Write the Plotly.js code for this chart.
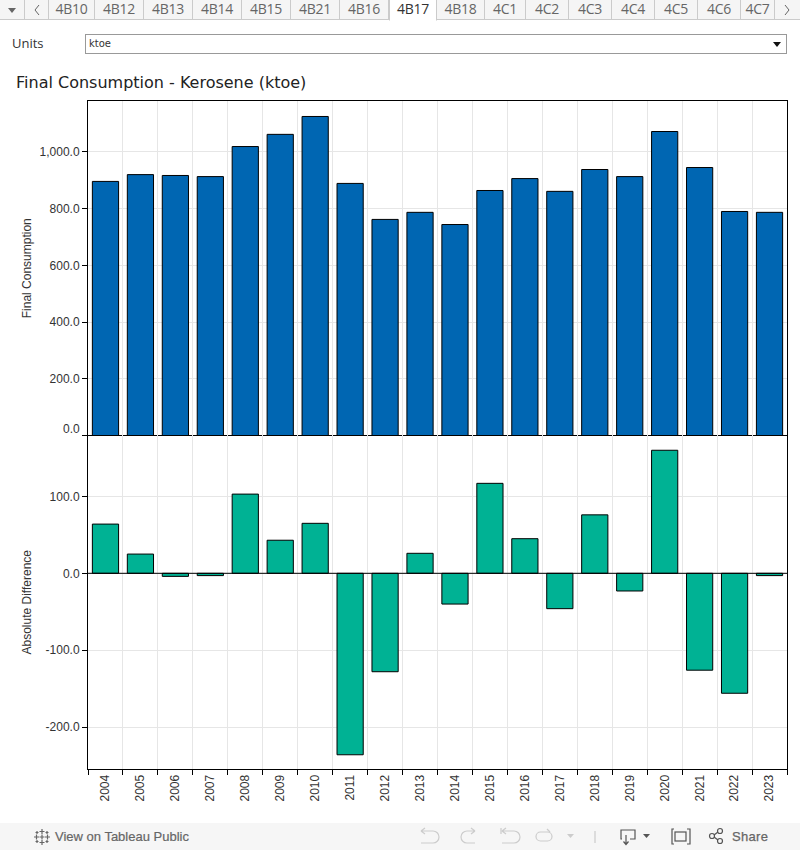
<!DOCTYPE html>
<html>
<head>
<meta charset="utf-8">
<script src="https://cdn.plot.ly/plotly-3.0.1.min.js"></script>
<style>
html,body{margin:0;padding:0;background:#fff;width:800px;height:850px;overflow:hidden}
#chart{position:absolute;left:0;top:0;width:800px;height:850px}
.abs{position:absolute;box-sizing:border-box}
#tabs{left:0;top:0;width:800px;height:20px;background:#f5f5f5;border-bottom:1px solid #cbcbcb}
.tab{position:absolute;top:0;height:20px;border-right:1px solid #cbcbcb;color:#666;font:14px "Open Sans",sans-serif;text-align:center;line-height:18px;box-sizing:border-box;letter-spacing:-.3px}
.tab.sel{background:#fff;color:#333;border-left:1px solid #cbcbcb;border-bottom:1px solid #fff;height:21px}
#units{left:12px;top:34px;font:13px "Open Sans",sans-serif;color:#333}
#sel{left:85px;top:34px;width:702px;height:20px;border:1px solid #999;font:10px "DejaVu Sans",sans-serif;color:#333;padding:3px 0 0 3px}
#foot{left:0;top:823px;width:800px;height:27px;background:#f6f6f6;font:13px "Liberation Sans",sans-serif;color:#666}
</style>
</head>
<body>
<div id="chart"></div>
<div id="tabs" class="abs"></div>
<div id="units" class="abs">Units</div>
<div id="sel" class="abs">ktoe<svg style="position:absolute;right:4px;top:7px" width="9" height="5"><path d="M0 0H8L4 5Z" fill="#111"/></svg></div>
<div id="foot" class="abs">
<svg style="position:absolute;left:33px;top:5px" width="18" height="18" stroke="#666" fill="none" stroke-width="1.2">
<path d="M9 1v5M6.500 3.500h5M9 12v5M6.500 14.500h5M1 9h5M3.500 6.500v5M12 9h5M14.500 6.500v5M9 6.500v5M6.500 9h5M4 3v3M2.500 4.500h3M14 3v3M12.500 4.500h3M4 12v3M2.500 13.500h3M14 12v3M12.500 13.500h3"/></svg>
<span style="position:absolute;left:55px;top:6px;-webkit-text-stroke:.2px #666">View on Tableau Public</span>
<svg style="position:absolute;left:413px;top:0" width="387" height="27" fill="none" stroke="#ccc" stroke-width="1.2">
<path d="M8 8h12a6 6 0 0 1 0 12h-12M8 8l4-3M8 8l4 3"/>
<path d="M62 8h-8a6 6 0 0 0 0 12h8M62 8l-4-3M62 8l-4 3"/>
<path d="M88 5v6M89 8h12a6 6 0 0 1 0 12h-12M89 8l4-3M89 8l4 3"/>
<rect x="123" y="9" width="16" height="9" rx="4.500"/><path d="M137 9l-3-3"/>
<path d="M154 11h7l-3.500 4z" fill="#ccc" stroke="none"/>
<path d="M182 8v12"/>
<g stroke="#555"><path d="M209 16h-1v-9h14v9h-5M213 12v9M210.500 18.500l2.500 3 2.500-3"/><path d="M230 11h7l-3.500 4z" fill="#555" stroke="none"/>
<path d="M261 6h-2v15h2M274 6h3v15h-3"/><rect x="262" y="9" width="11" height="9"/>
<circle cx="299" cy="13" r="2.500"/><circle cx="307" cy="8" r="2.500"/><circle cx="307" cy="18" r="2.500"/><path d="M301 12l4-3M301 14l4 3"/></g>
</svg>
<span style="position:absolute;left:732px;top:6px;letter-spacing:.3px;-webkit-text-stroke:.25px #666">Share</span>
</div>
<script>
const years=['2004','2005','2006','2007','2008','2009','2010','2011','2012','2013','2014','2015','2016','2017','2018','2019','2020','2021','2022','2023'];
const finalConsumption=[896,920,917,913,1019,1062,1125,889,762,787,744,864,906,861,938,913,1072,945,790,787];
const absoluteDifference=[64,25,-4,-3,103,43,65,-236,-128,26,-40,117,45,-46,76,-23,160,-126,-156,-3];
const topTicks=[0,200,400,600,800,1000];
const topTickText=['','200.0','400.0','600.0','800.0','1,000.0'];
const bottomTicks=[-200,-100,0,100];
const bottomTickText=['-200.0','-100.0','0.0','100.0'];
const tabNames=['4B10','4B12','4B13','4B14','4B15','4B21','4B16','4B17','4B18','4C1','4C2','4C3','4C4','4C5','4C6','4C7'];
const tabEdges=[49,95,144,193,242,291,340,389,437,485,526,569,612,655,698,741,775];

const tabsEl=document.getElementById('tabs');
function addTab(left,width,text,sel){const d=document.createElement('div');d.className='tab'+(sel?' sel':'');d.style.left=left+'px';d.style.width=width+'px';d.textContent=text;tabsEl.appendChild(d);return d;}
addTab(0,25,'');addTab(25,24,'');
tabNames.forEach((t,i)=>{addTab(tabEdges[i],tabEdges[i+1]-tabEdges[i],t,t==='4B17');});
tabsEl.insertAdjacentHTML('beforeend','<svg style="position:absolute;left:0;top:0" width="800" height="20" fill="none" stroke="#666"><path d="M8 8h8l-4 5z" fill="#666" stroke="none"/><path d="M39 5l-4 5 4 5M785 5l4 5-4 5"/></svg>');

const axisBase={showline:true,linecolor:'#000',linewidth:1,mirror:true,zeroline:false,gridcolor:'#e6e6e6',gridwidth:1,tickfont:{family:'Liberation Sans, Arial, sans-serif',size:12,color:'#333'},ticks:'outside',ticklen:5,tickcolor:'#000',tickwidth:1};
const titleFont={family:'Liberation Sans, Arial, sans-serif',size:12,color:'#333'};
const traces=[
 {type:'bar',x:years,y:finalConsumption,xaxis:'x',yaxis:'y',marker:{color:'#0066b2',line:{color:'#000',width:1}},hoverinfo:'x+y'},
 {type:'bar',x:years,y:absoluteDifference,xaxis:'x2',yaxis:'y2',marker:{color:'#00b294',line:{color:'#000',width:1}},hoverinfo:'x+y'}
];
const split=334/669;
const layout={
 width:800,height:850,autosize:false,showlegend:false,bargap:0.25,
 paper_bgcolor:'#fff',plot_bgcolor:'#fff',
 margin:{l:88,r:12.500,t:100.500,b:80.500,pad:0},
 title:{text:'Final Consumption - Kerosene (ktoe)',x:16/800,xanchor:'left',xref:'container',y:1-82/850,yanchor:'middle',font:{family:'DejaVu Sans, sans-serif',size:16,color:'#222'}},
 xaxis:Object.assign({},axisBase,{type:'category',domain:[0,1],anchor:'y',tickson:'boundaries',ticks:'',showticklabels:false,categoryorder:'array',categoryarray:years}),
 yaxis:Object.assign({},axisBase,{domain:[split,1],anchor:'x',range:[0,1179.600],tickmode:'array',tickvals:topTicks,ticktext:topTickText,title:{text:'Final Consumption',font:titleFont,standoff:5}}),
 xaxis2:Object.assign({},axisBase,{type:'category',domain:[0,1],anchor:'y2',mirror:false,tickson:'boundaries',tickangle:-90,categoryorder:'array',categoryarray:years}),
 yaxis2:Object.assign({},axisBase,{domain:[0,split],anchor:'x2',range:[-254.500,179.200],tickmode:'array',tickvals:bottomTicks,ticktext:bottomTickText,title:{text:'Absolute Difference',font:titleFont,standoff:11}}),
 shapes:[{type:'line',xref:'x2 domain',yref:'y2',x0:0,x1:1,y0:0,y1:0,line:{color:'#000',width:1}}],
 annotations:[{xref:'paper',yref:'y',x:0,y:0,yshift:7,xshift:-6,xanchor:'right',yanchor:'middle',showarrow:false,text:'0.0',font:axisBase.tickfont}]
};
Plotly.newPlot('chart',traces,layout,{displayModeBar:false,staticPlot:true});
</script>
</body>
</html>
